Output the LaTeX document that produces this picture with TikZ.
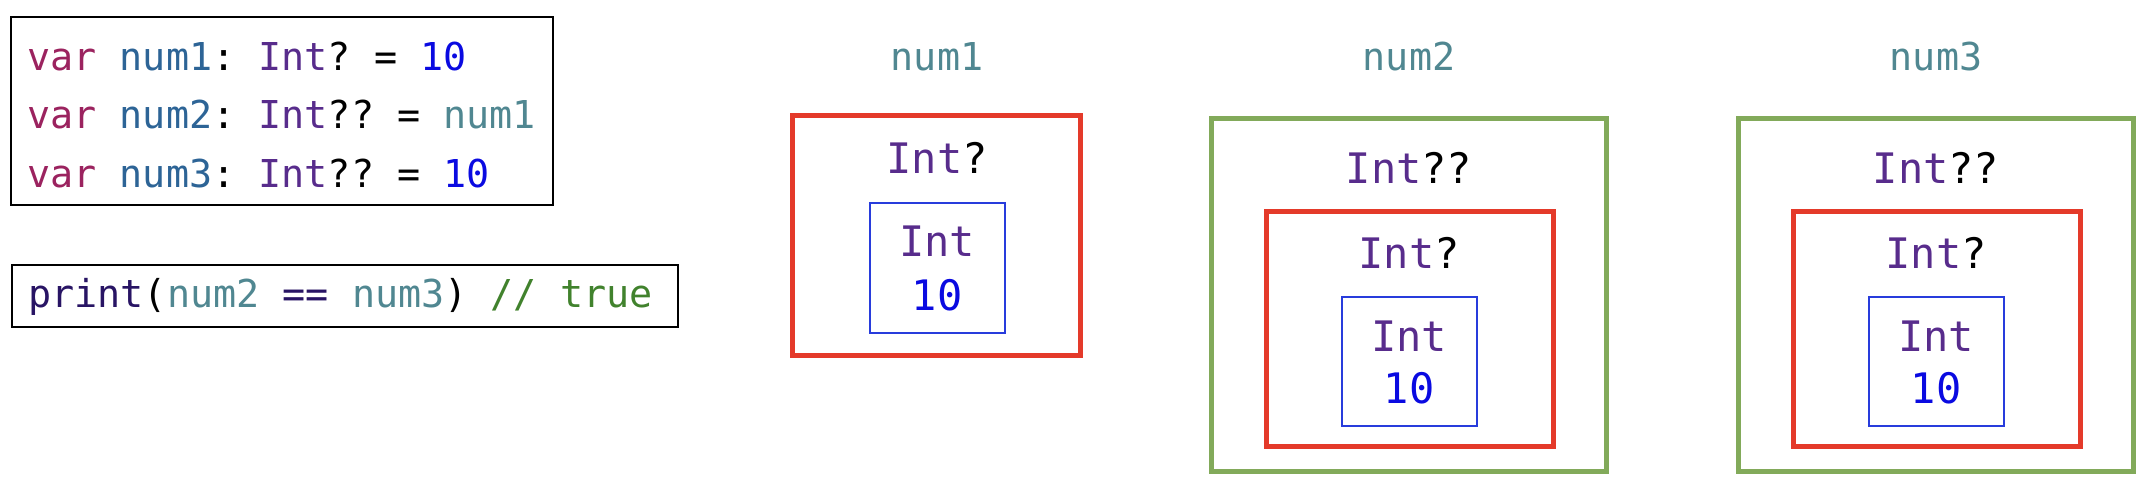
\documentclass[tikz,border=0pt]{standalone}
\usepackage{fontspec}
\setmonofont{DejaVu Sans Mono}
\definecolor{kwc}{RGB}{155,35,95}
\definecolor{declc}{RGB}{45,100,150}
\definecolor{typec}{RGB}{88,44,140}
\definecolor{numc}{RGB}{10,10,225}
\definecolor{refc}{RGB}{80,135,145}
\definecolor{funcc}{RGB}{40,20,100}
\definecolor{cmtc}{RGB}{65,130,45}
\definecolor{redc}{RGB}{228,58,42}
\definecolor{greenc}{RGB}{130,170,90}
\definecolor{bluec}{RGB}{40,60,220}
\begin{document}
\begin{tikzpicture}[x=0.5pt,y=-0.5pt,
  codetext/.style={anchor=base west,inner sep=0pt,font=\ttfamily\fontsize{19.2pt}{23pt}\selectfont},
  lbl/.style={anchor=base,inner sep=0pt,font=\ttfamily\fontsize{19.2pt}{23pt}\selectfont,text=refc},
  boxtext/.style={anchor=base,inner sep=0pt,font=\ttfamily\fontsize{21pt}{25pt}\selectfont},
  codebox/.style={draw=black,line width=0.8pt,inner sep=0pt},
  optbox/.style={draw=redc,line width=2.5pt,inner sep=0pt},
  optoptbox/.style={draw=greenc,line width=2.3pt,inner sep=0pt},
  intbox/.style={draw=bluec,line width=0.7pt,inner sep=0pt},
]
\useasboundingbox (0,0) rectangle (2154,498);

% code boxes
\node[codebox,minimum width=271pt,minimum height=94pt] (code) at (282,111) {};
\node[codebox,minimum width=333pt,minimum height=31pt] (printbox) at (345,296) {};

\node[codetext] (l1) at (27,70) {\textcolor{kwc}{var} \textcolor{declc}{num1}: \textcolor{typec}{Int}? = \textcolor{numc}{10}};
\node[codetext] (l2) at (27,128) {\textcolor{kwc}{var} \textcolor{declc}{num2}: \textcolor{typec}{Int}?? = \textcolor{refc}{num1}};
\node[codetext] (l3) at (27,187) {\textcolor{kwc}{var} \textcolor{declc}{num3}: \textcolor{typec}{Int}?? = \textcolor{numc}{10}};
\node[codetext] (pr) at (28,307) {\textcolor{funcc}{print}(\textcolor{refc}{num2} \textcolor{funcc}{==} \textcolor{refc}{num3}) \textcolor{cmtc}{// true}};

% num1
\node[lbl] (n1) at (937,70) {num1};
\node[optbox,minimum width=144pt,minimum height=119.75pt] (r1) at (936.5,235.25) {};
\node[boxtext] (r1t) at (937,173) {\textcolor{typec}{Int}?};
\node[intbox,minimum width=67.5pt,minimum height=65pt] (b1) at (937.5,268) {};
\node[boxtext,text=typec] (b1t) at (937,256) {Int};
\node[boxtext,text=numc] (b1v) at (937,310) {10};

% num2
\node[lbl] (n2) at (1409,70) {num2};
\node[optoptbox,minimum width=197.5pt,minimum height=176.5pt] (g2) at (1409,295) {};
\node[boxtext] (g2t) at (1409,183) {\textcolor{typec}{Int}??};
\node[optbox,minimum width=143.5pt,minimum height=117.5pt] (r2) at (1410,329) {};
\node[boxtext] (r2t) at (1409,268) {\textcolor{typec}{Int}?};
\node[intbox,minimum width=67.5pt,minimum height=64.5pt] (b2) at (1409.5,361.5) {};
\node[boxtext,text=typec] (b2t) at (1409,351) {Int};
\node[boxtext,text=numc] (b2v) at (1409,403) {10};

% num3
\node[lbl] (n3) at (1936,70) {num3};
\node[optoptbox,minimum width=197.5pt,minimum height=176.5pt] (g3) at (1936,295) {};
\node[boxtext] (g3t) at (1936,183) {\textcolor{typec}{Int}??};
\node[optbox,minimum width=143.5pt,minimum height=117.5pt] (r3) at (1937,329) {};
\node[boxtext] (r3t) at (1936,268) {\textcolor{typec}{Int}?};
\node[intbox,minimum width=67.5pt,minimum height=64.5pt] (b3) at (1936.5,361.5) {};
\node[boxtext,text=typec] (b3t) at (1936,351) {Int};
\node[boxtext,text=numc] (b3v) at (1936,403) {10};
\end{tikzpicture}
\end{document}
